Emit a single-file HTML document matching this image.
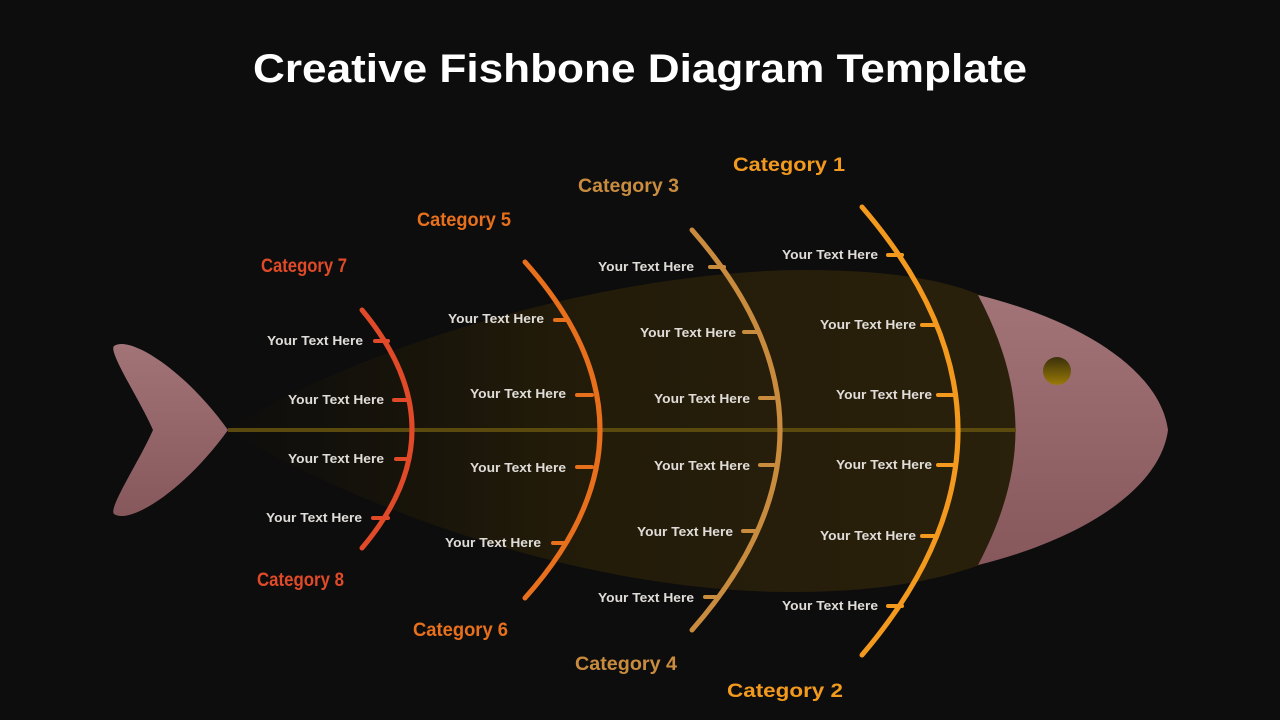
<!DOCTYPE html>
<html><head><meta charset="utf-8"><style>
html,body{margin:0;padding:0;background:#0d0d0d;}
svg{display:block;}
.t{font-family:"Liberation Sans",sans-serif;font-size:13px;font-weight:bold;fill:#e0dcd8;text-anchor:end;}
.c{font-family:"Liberation Sans",sans-serif;font-size:19px;font-weight:bold;}
</style></head><body>
<svg width="1280" height="720" viewBox="0 0 1280 720" xmlns="http://www.w3.org/2000/svg">
<defs>
<linearGradient id="bodyg" x1="0" y1="0" x2="1" y2="0">
<stop offset="0" stop-color="#1a1508" stop-opacity="0.1"/>
<stop offset="0.4" stop-color="#221b09"/>
<stop offset="1" stop-color="#2a210b"/>
</linearGradient>
<linearGradient id="pink" x1="0" y1="0" x2="0" y2="1">
<stop offset="0" stop-color="#a27478"/>
<stop offset="1" stop-color="#86585c"/>
</linearGradient>
<linearGradient id="eye" x1="0" y1="0" x2="0" y2="1">
<stop offset="0" stop-color="#3a300a"/>
<stop offset="1" stop-color="#9a7a08"/>
</linearGradient>
</defs>
<rect width="1280" height="720" fill="#0d0d0d"/>
<text x="640" y="82" text-anchor="middle" font-family="Liberation Sans,sans-serif" font-weight="bold" font-size="40" fill="#ffffff" textLength="774" lengthAdjust="spacingAndGlyphs">Creative Fishbone Diagram Template</text>

<!-- body -->
<path d="M228,430 C350,350 600,272 800,270 C900,270 950,282 985,297 L1040,430 L985,563 C940,580 880,592 790,592 C600,592 380,520 228,430 Z" fill="url(#bodyg)"/>
<!-- head -->
<path d="M978,295 C1080,320 1160,370 1168,430 C1160,490 1080,540 978,565 C1028,470 1028,390 978,295 Z" fill="url(#pink)"/>
<circle cx="1057" cy="371" r="14" fill="url(#eye)"/>
<!-- tail -->
<path d="M114,346 C130,335 185,370 228,430 C185,490 130,525 114,514 C108,508 140,460 153,430 C140,400 108,352 114,346 Z" fill="url(#pink)"/>
<!-- spine -->
<line x1="228" y1="430" x2="1016" y2="430" stroke="#5a4a0e" stroke-width="4"/>

<g fill="none" stroke-linecap="round" stroke-width="5">
<path d="M362,310 Q462,430 362,548" stroke="#e04a28"/>
<path d="M525,262 Q675,430 525,598" stroke="#e8701c"/>
<path d="M692,230 Q868,430 692,630" stroke="#c98b3e"/>
<path d="M862,207 Q1054,430 862,655" stroke="#f39a1e"/>
</g>
<g stroke-linecap="round" stroke-width="4">
<g stroke="#e04a28">
<line x1="375" y1="341" x2="388" y2="341"/><line x1="394" y1="400" x2="407" y2="400"/>
<line x1="396" y1="459" x2="409" y2="459"/><line x1="373" y1="518" x2="388" y2="518"/>
</g>
<g stroke="#e8701c">
<line x1="555" y1="320" x2="568" y2="320"/><line x1="577" y1="395" x2="592" y2="395"/>
<line x1="577" y1="467" x2="592" y2="467"/><line x1="553" y1="543" x2="566" y2="543"/>
</g>
<g stroke="#c98b3e">
<line x1="710" y1="267" x2="724" y2="267"/><line x1="744" y1="332" x2="758" y2="332"/>
<line x1="760" y1="398" x2="774" y2="398"/><line x1="760" y1="465" x2="774" y2="465"/>
<line x1="743" y1="531" x2="757" y2="531"/><line x1="705" y1="597" x2="719" y2="597"/>
</g>
<g stroke="#f39a1e">
<line x1="888" y1="255" x2="902" y2="255"/><line x1="922" y1="325" x2="937" y2="325"/>
<line x1="938" y1="395" x2="953" y2="395"/><line x1="938" y1="465" x2="953" y2="465"/>
<line x1="922" y1="536" x2="937" y2="536"/><line x1="888" y1="606" x2="902" y2="606"/>
</g>
</g>

<g>
<text class="t" x="363" y="345" textLength="96" lengthAdjust="spacingAndGlyphs">Your Text Here</text>
<text class="t" x="384" y="404" textLength="96" lengthAdjust="spacingAndGlyphs">Your Text Here</text>
<text class="t" x="384" y="463" textLength="96" lengthAdjust="spacingAndGlyphs">Your Text Here</text>
<text class="t" x="362" y="522" textLength="96" lengthAdjust="spacingAndGlyphs">Your Text Here</text>
<text class="t" x="544" y="323" textLength="96" lengthAdjust="spacingAndGlyphs">Your Text Here</text>
<text class="t" x="566" y="398" textLength="96" lengthAdjust="spacingAndGlyphs">Your Text Here</text>
<text class="t" x="566" y="472" textLength="96" lengthAdjust="spacingAndGlyphs">Your Text Here</text>
<text class="t" x="541" y="547" textLength="96" lengthAdjust="spacingAndGlyphs">Your Text Here</text>
<text class="t" x="694" y="271" textLength="96" lengthAdjust="spacingAndGlyphs">Your Text Here</text>
<text class="t" x="736" y="337" textLength="96" lengthAdjust="spacingAndGlyphs">Your Text Here</text>
<text class="t" x="750" y="403" textLength="96" lengthAdjust="spacingAndGlyphs">Your Text Here</text>
<text class="t" x="750" y="470" textLength="96" lengthAdjust="spacingAndGlyphs">Your Text Here</text>
<text class="t" x="733" y="536" textLength="96" lengthAdjust="spacingAndGlyphs">Your Text Here</text>
<text class="t" x="694" y="602" textLength="96" lengthAdjust="spacingAndGlyphs">Your Text Here</text>
<text class="t" x="878" y="259" textLength="96" lengthAdjust="spacingAndGlyphs">Your Text Here</text>
<text class="t" x="916" y="329" textLength="96" lengthAdjust="spacingAndGlyphs">Your Text Here</text>
<text class="t" x="932" y="399" textLength="96" lengthAdjust="spacingAndGlyphs">Your Text Here</text>
<text class="t" x="932" y="469" textLength="96" lengthAdjust="spacingAndGlyphs">Your Text Here</text>
<text class="t" x="916" y="540" textLength="96" lengthAdjust="spacingAndGlyphs">Your Text Here</text>
<text class="t" x="878" y="610" textLength="96" lengthAdjust="spacingAndGlyphs">Your Text Here</text>
</g>

<text class="c" x="733" y="171" fill="#f39a1e" font-size="20" textLength="112" lengthAdjust="spacingAndGlyphs">Category 1</text>
<text class="c" x="727" y="697" fill="#f39a1e" font-size="20" textLength="116" lengthAdjust="spacingAndGlyphs">Category 2</text>
<text class="c" x="578" y="192" fill="#c98b3e" textLength="101" lengthAdjust="spacingAndGlyphs">Category 3</text>
<text class="c" x="575" y="670" fill="#c98b3e" textLength="102" lengthAdjust="spacingAndGlyphs">Category 4</text>
<text class="c" x="417" y="226" fill="#e8701c" font-size="17" textLength="94" lengthAdjust="spacingAndGlyphs">Category 5</text>
<text class="c" x="413" y="636" fill="#e8701c" font-size="17" textLength="95" lengthAdjust="spacingAndGlyphs">Category 6</text>
<text class="c" x="261" y="272" fill="#e04a28" font-size="16" textLength="86" lengthAdjust="spacingAndGlyphs">Category 7</text>
<text class="c" x="257" y="586" fill="#e04a28" font-size="16" textLength="87" lengthAdjust="spacingAndGlyphs">Category 8</text>
</svg>
</body></html>
